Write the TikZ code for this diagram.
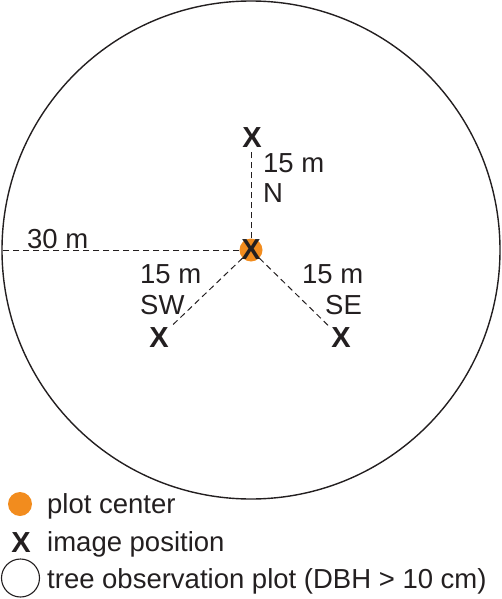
\documentclass[tikz,border=0pt]{standalone}
\usepackage{fontspec}
\setmainfont{Liberation Sans}
\definecolor{plotorange}{RGB}{242,140,30}
\definecolor{ink}{RGB}{35,31,32}
\begin{document}
\begin{tikzpicture}[x=1pt,y=-1pt,
  lbl/.style={inner sep=0pt,anchor=base west,text=ink,font=\fontsize{27.5}{31}\selectfont},
  xmark/.style={inner sep=0pt,text=ink,font=\bfseries\fontsize{29}{30}\selectfont},
  dotc/.style={circle,fill=plotorange,inner sep=0pt,minimum size=23pt},
  dashln/.style={draw=ink,line width=1pt,dash pattern=on 6pt off 4pt}]
\useasboundingbox (0,0) rectangle (502,599);
% plot circle
\draw[ink,line width=1.4pt] (251,250) circle[radius=249];
% center
\node[dotc] (c) at (251,250) {};
\node[xmark] (cx) at (251,250) {X};
% image positions
\node[xmark] (nx) at (252,138) {X};
\node[xmark] (swx) at (159,338) {X};
\node[xmark] (sex) at (341,338) {X};
\coordinate (left) at (2,250);
% dashed connectors
\draw[dashln] (c) -- (left);
\draw[dashln,shorten >=3pt] (c) -- (nx.south -| c);
\draw[dashln,shorten >=2pt] (c) -- (swx);
\draw[dashln,shorten >=2pt] (c) -- (sex);
% labels
\node[lbl] (l30) at (27,248) {30 m};
\node[lbl] (ln1) at (263,172) {15 m};
\node[lbl] (ln2) at (263,202) {N};
\node[lbl] (lsw1) at (140,283) {15 m};
\node[lbl] (lsw2) at (140,314) {SW};
\node[lbl] (lse1) at (302,283) {15 m};
\node[lbl] (lse2) at (325,314) {SE};
% legend
\node[dotc,minimum size=24pt] (gdot) at (20,504) {};
\node[lbl] (gt1) at (47,513) {plot center};
\node[xmark] (gx) at (21,543) {X};
\node[lbl] (gt2) at (47,551) {image position};
\node[circle,draw=ink,line width=1.1pt,inner sep=0pt,minimum size=38pt] (gc) at (20.5,578) {};
\node[lbl] (gt3) at (47,588) {tree observation plot (DBH > 10 cm)};
\end{tikzpicture}
\end{document}
